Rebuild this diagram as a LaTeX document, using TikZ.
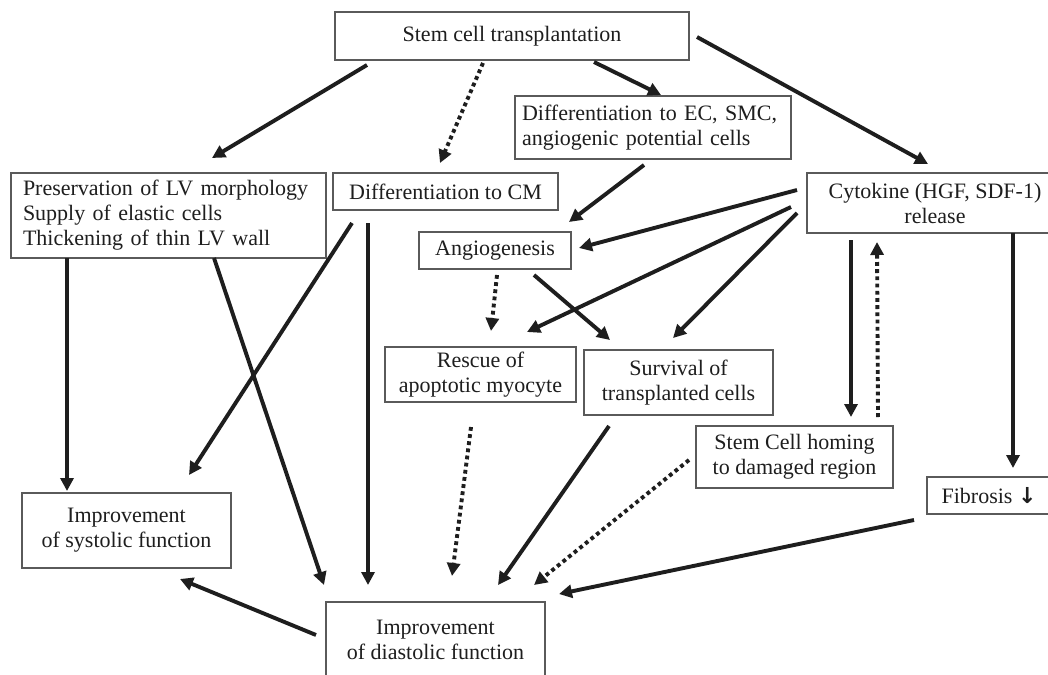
\documentclass[tikz,border=0pt]{standalone}
\usepackage{fontspec}
\setmainfont{Liberation Serif}
\newfontfamily\arrowfont{DejaVu Sans}
\usetikzlibrary{arrows.meta,calc}
\definecolor{ink}{RGB}{30,30,30}
\definecolor{frame}{RGB}{90,90,90}
\begin{document}
\begin{tikzpicture}[x=1pt,y=-1pt,
  box/.style={draw=frame, line width=1.5pt, fill=white, outer sep=0pt, inner sep=0pt,
    font=\fontsize{22}{25}\selectfont, text=ink, align=center},
  lbox/.style={box, align=left},
  arr/.style={draw=ink, line width=3.9pt, -{Triangle[length=13pt,width=13pt]}},
  dotarr/.style={arr, dash pattern=on 3.8pt off 3.4pt}]
\useasboundingbox (0,0) rectangle (1048,674);
\fill[white] (0,0) rectangle (1048,674);

% boxes
\node[box, minimum width=354pt, minimum height=48pt] (stem) at (512,36) {Stem cell transplantation};
\node[lbox, minimum width=315pt, minimum height=85pt, text width=291pt] (pres) at (168.5,215.5)
  {\mbox{Preservation of LV morphology}\\ \mbox{Supply of elastic cells}\\ \mbox{Thickening of thin LV wall}};
\node[box, minimum width=225pt, minimum height=37pt] (cm) at (445.5,191.5) {Differentiation to CM};
\node[lbox, minimum width=276pt, minimum height=63pt, text width=262pt] (ec) at (653,127.5)
  {\mbox{Differentiation to EC, SMC,}\\ \mbox{angiogenic potential cells}};
\node[box, minimum width=256pt, minimum height=60pt] (cyto) at (935,203) {Cytokine (HGF, SDF-1)\\ release};
\node[box, minimum width=152pt, minimum height=37pt] (ang) at (495,250.5) {Angiogenesis};
\node[box, minimum width=191pt, minimum height=55pt] (rescue) at (480.5,374.5) {Rescue of\\ apoptotic myocyte};
\node[box, minimum width=189pt, minimum height=65pt] (surv) at (678.5,382.5) {Survival of\\ transplanted cells};
\node[box, minimum width=197pt, minimum height=62pt] (homing) at (794.5,457) {Stem Cell homing\\ to damaged region};
\node[box, minimum width=124pt, minimum height=37pt] (fib) at (989,495.5) {Fibrosis {\arrowfont\bfseries ↓}};
\node[box, minimum width=209pt, minimum height=75pt] (sys) at (126.5,530.5) {Improvement\\ of systolic function};
\node[box, minimum width=219pt, minimum height=75pt] (dia) at (435.5,639.5) {Improvement\\ of diastolic function};

% connectors
\draw[arr] ($(stem.south west)+(32,5)$) -- ($(pres.north west)+(201,-15)$);
\draw[dotarr] ($(stem.south west)+(148,3)$) -- ($(cm.north west)+(107,-10)$);
\draw[arr] ($(stem.south west)+(259,2)$) -- ($(ec.north west)+(146,-1)$);
\draw[arr] ($(stem.north east)+(8,25)$) -- ($(cyto.north west)+(121,-9)$);
\draw[arr] ($(ec.south west)+(129,6)$) -- ($(ang.north west)+(150,-10)$);
\draw[arr] ($(cyto.north west)+(-10,17)$) -- ($(ang.north west)+(160,16)$);
\draw[arr] ($(cyto.north west)+(-16,34)$) -- ($(rescue.north west)+(142,-15)$);
\draw[arr] ($(cyto.north west)+(-10,40)$) -- ($(surv.north west)+(89,-12)$);
\draw[arr] ($(ang.south west)+(115,6)$) -- ($(surv.north west)+(26,-10)$);
\draw[dotarr] ($(ang.south west)+(78,6)$) -- ($(rescue.north west)+(106,-16)$);
\draw[arr] ($(pres.south west)+(56,0)$) -- ($(sys.north west)+(45,-2)$);
\draw[arr] ($(pres.south west)+(203,0)$) -- ($(dia.north west)+(-2,-17)$);
\draw[arr] ($(cm.south west)+(19,13)$) -- ($(sys.north west)+(167,-18)$);
\draw[arr] ($(cm.south west)+(35,13)$) -- ($(dia.north west)+(42,-17)$);
\draw[dotarr] ($(rescue.south west)+(86,25)$) -- ($(dia.north west)+(126,-26)$);
\draw[arr] ($(surv.south west)+(25,11)$) -- ($(dia.north west)+(172,-17)$);
\draw[dotarr] ($(homing.west)+(-7,3)$) -- ($(dia.north west)+(208,-17)$);
\draw[arr] ($(fib.south west)+(-13,6)$) -- ($(dia.north west)+(233,-8)$);
\draw[arr] ($(dia.north west)+(-10,33)$) -- ($(sys.south east)+(-51,11)$);
\draw[arr] ($(cyto.south west)+(44,7)$) -- ($(homing.north west)+(155,-9)$);
\draw[dotarr] ($(homing.north west)+(182,-9)$) -- ($(cyto.south west)+(70,9)$);
\draw[arr] ($(cyto.south west)+(206,0)$) -- ($(fib.north west)+(86,-9)$);
\end{tikzpicture}
\end{document}
